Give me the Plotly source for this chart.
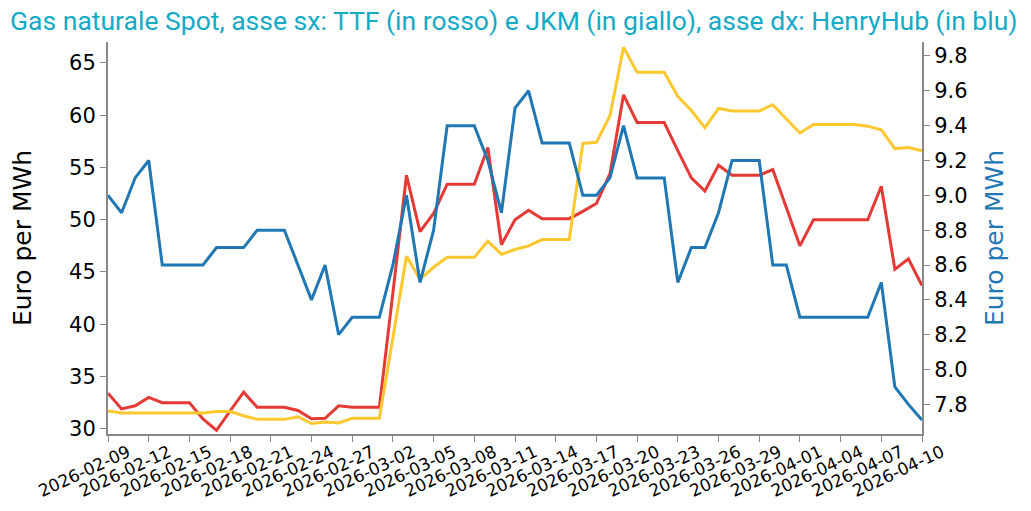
import pandas as pd
import plotly.graph_objects as go

dates = pd.date_range("2026-02-09", "2026-04-10", freq="D").strftime("%Y-%m-%d").tolist()

ttf = [33.4, 31.9, 32.2, 33.0, 32.5, 32.5, 32.5, 30.95, 29.85, 31.7,
       33.5, 32.05, 32.05, 32.05, 31.75, 30.95, 31.0, 32.2, 32.05, 32.05,
       32.05, 43.0, 54.25, 48.85, 50.6, 53.4, 53.4, 53.4, 56.9, 47.6,
       50.0, 50.9, 50.1, 50.1, 50.1, 50.8, 51.55, 54.4, 61.95, 59.3,
       59.3, 59.3, 56.6, 54.0, 52.75, 55.2, 54.25, 54.25, 54.25, 54.8,
       51.1, 47.5, 50.0, 50.0, 50.0, 50.0, 50.0, 53.2, 45.25, 46.25,
       43.7]

jkm = [31.7, 31.5, 31.5, 31.5, 31.5, 31.5, 31.5, 31.5, 31.65, 31.65,
       31.25, 30.9, 30.9, 30.9, 31.15, 30.5, 30.65, 30.55, 31.0, 31.0,
       31.0, 38.7, 46.5, 44.3, 45.45, 46.4, 46.4, 46.4, 47.95, 46.7,
       47.15, 47.5, 48.1, 48.1, 48.1, 57.3, 57.4, 59.95, 66.5, 64.1,
       64.1, 64.1, 61.8, 60.45, 58.8, 60.65, 60.4, 60.4, 60.4, 61.0,
       59.65, 58.3, 59.1, 59.1, 59.1, 59.1, 58.95, 58.6, 56.8, 56.9,
       56.6]

henryhub = [9.0, 8.9, 9.1, 9.2, 8.6, 8.6, 8.6, 8.6, 8.7, 8.7,
            8.7, 8.8, 8.8, 8.8, 8.6, 8.4, 8.6, 8.2, 8.3, 8.3,
            8.3, 8.6, 9.0, 8.5, 8.8, 9.4, 9.4, 9.4, 9.2, 8.9,
            9.5, 9.6, 9.3, 9.3, 9.3, 9.0, 9.0, 9.1, 9.4, 9.1,
            9.1, 9.1, 8.5, 8.7, 8.7, 8.9, 9.2, 9.2, 9.2, 8.6,
            8.6, 8.3, 8.3, 8.3, 8.3, 8.3, 8.3, 8.5, 7.9, 7.8,
            7.71]

tick_dates = dates[::3]
left_ticks = [30, 35, 40, 45, 50, 55, 60, 65]
right_ticks = [7.8, 8.0, 8.2, 8.4, 8.6, 8.8, 9.0, 9.2, 9.4, 9.6, 9.8]

title_text = "Gas naturale Spot, asse sx: TTF (in rosso) e JKM (in giallo), asse dx: HenryHub (in blu)"
axis_title = "Euro per MWh"

RED = "#e53935"
YELLOW = "#fdc82f"
BLUE = "#1f77b4"
AXIS = "#888888"

fig = go.Figure()
fig.add_trace(go.Scatter(x=dates, y=ttf, mode="lines", name="TTF",
                         line=dict(color=RED, width=3)))
fig.add_trace(go.Scatter(x=dates, y=jkm, mode="lines", name="JKM",
                         line=dict(color=YELLOW, width=3)))
fig.add_trace(go.Scatter(x=dates, y=henryhub, mode="lines", name="HenryHub",
                         line=dict(color=BLUE, width=3), yaxis="y2"))

tickfont = dict(family="DejaVu Sans", size=21, color="black")
common = dict(showgrid=False, zeroline=False, showline=True, linecolor=AXIS,
              linewidth=2, ticks="outside", tickcolor=AXIS, ticklen=6,
              tickwidth=1, automargin=False)

# the page body adds an 8px offset, so the figure is 8px smaller on each side
fig.update_layout(
    width=1023, height=503,
    margin=dict(l=100, r=109, t=34, b=77),
    paper_bgcolor="white", plot_bgcolor="white",
    showlegend=False,
    title=dict(text=title_text, x=0.002, xanchor="left", y=0.993, yanchor="top",
               yref="container",
               font=dict(family="Roboto", size=26.5, color="#14aac6")),
    xaxis=dict(
        type="date",
        range=[dates[0], dates[-1]],
        tickvals=tick_dates, ticktext=tick_dates,
        tickangle=-25,
        ticklabelshift=20,
        ticklabelstandoff=-6,
        tickfont=dict(family="DejaVu Sans", size=17, color="black"),
        **common,
    ),
    yaxis=dict(
        range=[29.5, 67.0], tickvals=left_ticks,
        tickfont=tickfont,
        title=dict(text=axis_title, font=dict(family="DejaVu Sans", size=25, color="black"),
                   standoff=38),
        **common,
    ),
    yaxis2=dict(
        overlaying="y", side="right",
        range=[7.63, 9.88],
        tickvals=right_ticks,
        tickformat=".1f",
        tickfont=tickfont,
        title=dict(text=axis_title, font=dict(family="DejaVu Sans", size=25, color=BLUE),
                   standoff=19),
        **common,
    ),
)

fig.write_html("out.html")
